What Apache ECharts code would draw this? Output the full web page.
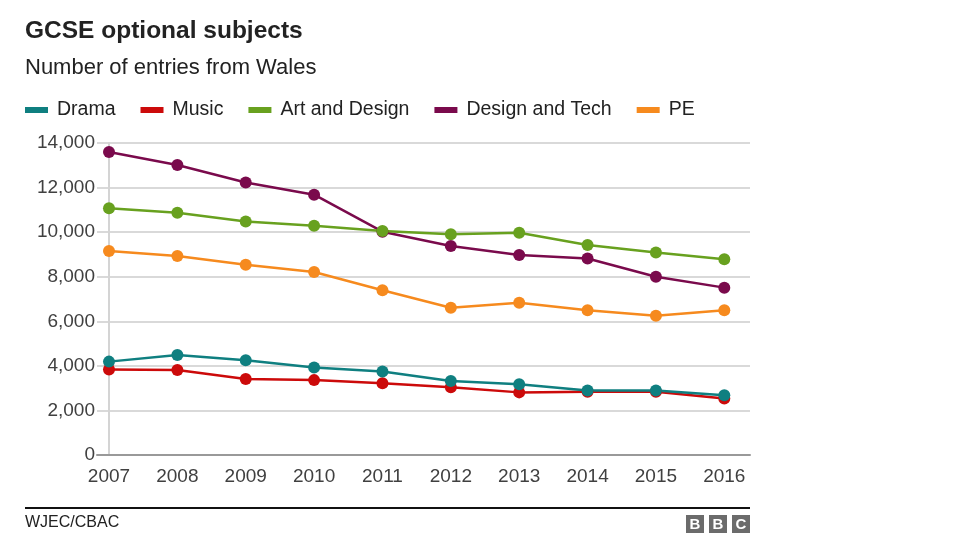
<!DOCTYPE html>
<html>
<head>
<meta charset="utf-8">
<script src="https://cdn.jsdelivr.net/npm/echarts@6/dist/echarts.min.js"></script>
<style>
html,body{margin:0;padding:0;background:#fff;}
#chart{width:976px;height:549px;}
</style>
</head>
<body>
<div id="chart"></div>
<script>
var years = [2007, 2008, 2009, 2010, 2011, 2012, 2013, 2014, 2015, 2016];
var seriesNames = ['Drama', 'Music', 'Art and Design', 'Design and Tech', 'PE'];
var drama = [4190, 4490, 4250, 3930, 3750, 3320, 3170, 2890, 2890, 2680];
var music = [3840, 3810, 3410, 3360, 3220, 3040, 2810, 2840, 2840, 2530];
var artDesign = [11070, 10870, 10480, 10290, 10050, 9910, 9970, 9420, 9090, 8780];
var designTech = [13600, 13010, 12230, 11680, 10020, 9380, 8970, 8820, 8000, 7510];
var pe = [9150, 8930, 8540, 8210, 7390, 6610, 6830, 6500, 6250, 6500];
var yTicks = [0, 2000, 4000, 6000, 8000, 10000, 12000, 14000];

var colors = {
  'Drama': '#0f7f80',
  'Music': '#cc0a0a',
  'Art and Design': '#68a11f',
  'Design and Tech': '#7a0a4c',
  'PE': '#f68a1e'
};
var valuesByName = {
  'Drama': drama,
  'Music': music,
  'Art and Design': artDesign,
  'Design and Tech': designTech,
  'PE': pe
};

function pairs(vals) {
  return years.map(function (y, i) { return [y, vals[i]]; });
}

var FONT = '"Liberation Sans", Arial, Helvetica, sans-serif';

// Earlier series drawn on top: build series in reverse order
var series = seriesNames.slice().reverse().map(function (name) {
  return {
    name: name,
    type: 'line',
    data: pairs(valuesByName[name]),
    symbol: 'circle',
    symbolSize: 12,
    showSymbol: true,
    lineStyle: { width: 2.5, color: colors[name] },
    itemStyle: { color: colors[name] },
    emphasis: { disabled: true },
    animation: false
  };
});

var chart = echarts.init(document.getElementById('chart'), null, { renderer: 'canvas' });
chart.setOption({
  backgroundColor: '#ffffff',
  animation: false,
  textStyle: { fontFamily: FONT },
  legend: {
    data: seriesNames.map(function (n) { return { name: n, icon: 'rect', itemStyle: { color: colors[n] } }; }),
    left: 25,
    top: 100,
    padding: 0,
    itemWidth: 23,
    itemHeight: 6,
    itemGap: 25,
    selectedMode: false,
    textStyle: { fontFamily: FONT, fontSize: 19.5, color: '#222222', padding: [0, 0, 0, 4] }
  },
  grid: { left: 97, right: 226, top: 143, bottom: 94, containLabel: false },
  xAxis: {
    type: 'value',
    min: 2006.8245,
    max: 2016.376,
    axisLine: { show: true, lineStyle: { color: '#999999', width: 2 } },
    axisTick: { show: false },
    splitLine: { show: false },
    axisLabel: {
      customValues: years,
      fontFamily: FONT,
      fontSize: 19,
      color: '#404040',
      margin: 12,
      formatter: function (v) { return String(v); }
    }
  },
  yAxis: {
    type: 'value',
    min: 0,
    max: 14000,
    interval: 2000,
    offset: -12,
    axisLine: { show: true, lineStyle: { color: '#d4d4d4', width: 2 } },
    axisTick: { show: false },
    splitLine: { show: true, lineStyle: { color: '#d9d9d9', width: 2 } },
    axisLabel: {
      fontFamily: FONT,
      fontSize: 19,
      color: '#404040',
      margin: 14,
      formatter: function (v) { return v.toLocaleString('en-GB'); }
    }
  },
  graphic: [
    { type: 'text', x: 25, y: 31, style: { text: 'GCSE optional subjects', font: 'bold 24.5px ' + FONT, fill: '#222222', verticalAlign: 'middle' } },
    { type: 'text', x: 25, y: 68, style: { text: 'Number of entries from Wales', font: '22px ' + FONT, fill: '#222222', verticalAlign: 'middle' } },
    { type: 'rect', shape: { x: 25, y: 507, width: 725, height: 2 }, style: { fill: '#111111' } },
    { type: 'text', x: 25, y: 523, style: { text: 'WJEC/CBAC', font: '16px ' + FONT, fill: '#222222', verticalAlign: 'middle' } },
    { type: 'rect', shape: { x: 686, y: 515, width: 18, height: 18 }, style: { fill: '#6b6b6b' } },
    { type: 'rect', shape: { x: 709, y: 515, width: 18, height: 18 }, style: { fill: '#6b6b6b' } },
    { type: 'rect', shape: { x: 732, y: 515, width: 18, height: 18 }, style: { fill: '#6b6b6b' } },
    { type: 'text', x: 695, y: 524.5, style: { text: 'B', font: 'bold 15px ' + FONT, fill: '#ffffff', align: 'center', verticalAlign: 'middle' } },
    { type: 'text', x: 718, y: 524.5, style: { text: 'B', font: 'bold 15px ' + FONT, fill: '#ffffff', align: 'center', verticalAlign: 'middle' } },
    { type: 'text', x: 741, y: 524.5, style: { text: 'C', font: 'bold 15px ' + FONT, fill: '#ffffff', align: 'center', verticalAlign: 'middle' } }
  ],
  series: series
});
</script>
</body>
</html>
